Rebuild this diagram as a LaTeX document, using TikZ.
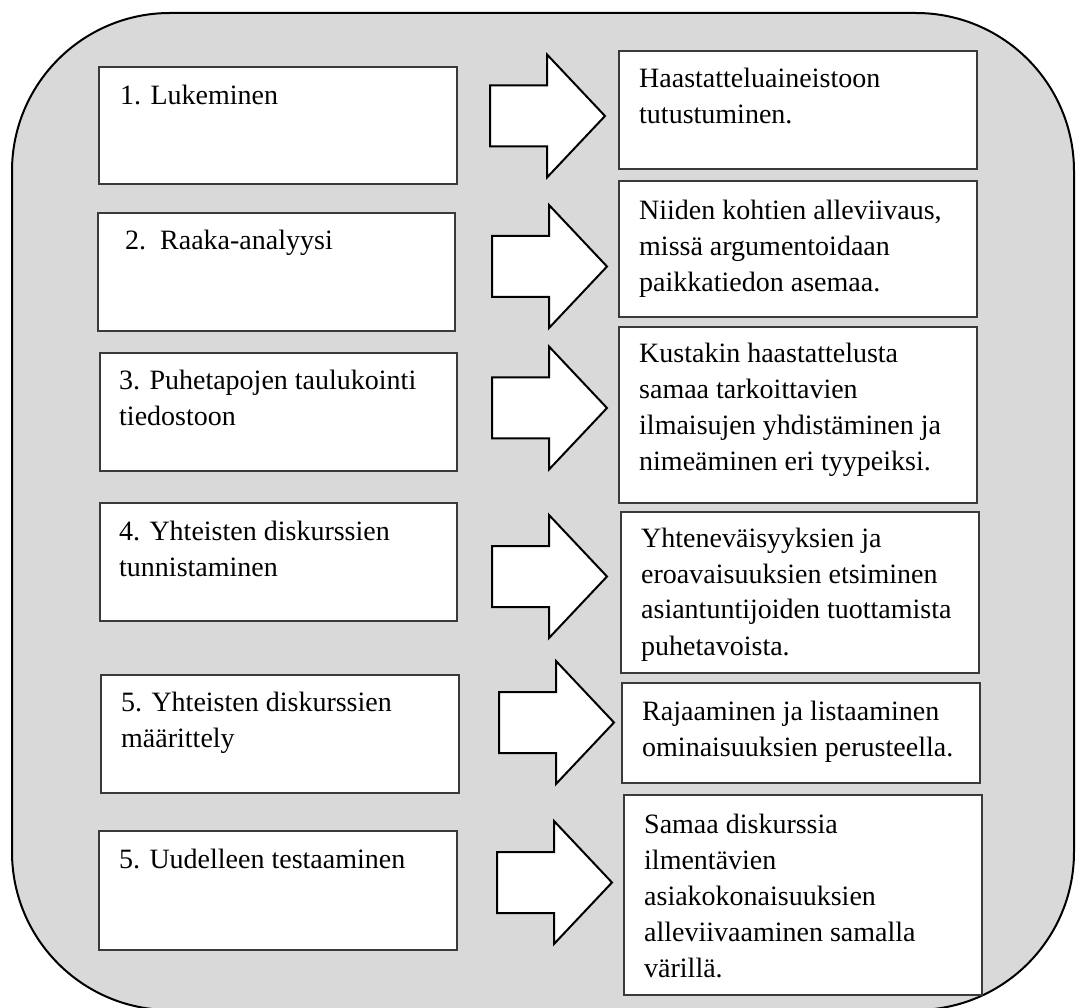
\documentclass[tikz,border=0pt]{standalone}
\usepackage{fontspec}
\setmainfont{Liberation Serif}
\definecolor{panelgray}{HTML}{D9D9D9}
\definecolor{boxline}{HTML}{3A3A3A}
\tikzset{
  panel/.style={draw=black, line width=2pt, fill=panelgray, rounded corners=158pt},
  stepbox/.style={draw=boxline, line width=1.3pt, fill=white, rectangle, inner sep=0pt},
  steptext/.style={anchor=base west, inner sep=0pt, font=\fontsize{28}{36}\selectfont},
  blockarrow/.pic={\draw[line width=2pt, fill=white, line join=miter]
      (0,-30.5) -- (57,-30.5) -- (57,-61.5) -- (115,0) -- (57,61.5) -- (57,30.5) -- (0,30.5) -- cycle;}
}
\newcommand{\mybox}[5]{\node[stepbox, minimum width={(#4)-(#2)}, minimum height={(#5)-(#3)}] (#1) at ({((#2)+(#4))/2},{((#3)+(#5))/2}) {};}
\newcommand{\mytext}[4]{\node[steptext] (#1) at (#2,#3) {\begin{tabular}[t]{@{}l@{}}#4\end{tabular}};}
\begin{document}
\begin{tikzpicture}[x=1pt, y=-1pt]
\useasboundingbox (0,0) rectangle (1088,1008);
\begin{scope}
\clip (0,0) rectangle (1088,1008);
\draw[panel] (12,13) rectangle (1074,1010);
\end{scope}
% left boxes
\mybox{b1}{99}{67}{457}{184}
\mybox{b2}{98}{213}{455}{331}
\mybox{b3}{100}{353}{457}{471}
\mybox{b4}{100}{503}{457}{621}
\mybox{b5}{101}{675}{459}{793}
\mybox{b6}{99}{831}{457}{950}
% right boxes
\mybox{r1}{619}{51}{977}{169}
\mybox{r2}{619}{181}{977}{317}
\mybox{r3}{619}{327}{977}{503}
\mybox{r4}{621}{512}{979}{673}
\mybox{r5}{622}{683}{980}{783}
\mybox{r6}{624}{795}{982}{995}
% arrows
\pic at (490,116) {blockarrow};
\pic at (492,266.5) {blockarrow};
\pic at (492,408) {blockarrow};
\pic at (492,576.5) {blockarrow};
\pic at (499,722.5) {blockarrow};
\pic at (497,882.5) {blockarrow};
% left texts
\mytext{t1}{120}{105}{1. Lukeminen}
\mytext{t2}{125}{250}{2.\ \ Raaka-analyysi}
\mytext{t3}{119}{390}{3. Puhetapojen taulukointi\\tiedostoon}
\mytext{t4}{119}{540}{4. Yhteisten diskurssien\\tunnistaminen}
\mytext{t5}{121}{711}{5. Yhteisten diskurssien\\määrittely}
\mytext{t6}{119}{868}{5. Uudelleen testaaminen}
% right texts
\mytext{s1}{639}{88}{Haastatteluaineistoon\\tutustuminen.}
\mytext{s2}{639}{220}{Niiden kohtien alleviivaus,\\missä argumentoidaan\\paikkatiedon asemaa.}
\mytext{s3}{639}{363}{Kustakin haastattelusta\\samaa tarkoittavien\\ilmaisujen yhdistäminen ja\\nimeäminen eri tyypeiksi.}
\mytext{s4}{641}{547}{Yhteneväisyyksien ja\\eroavaisuuksien etsiminen\\asiantuntijoiden tuottamista\\puhetavoista.}
\mytext{s5}{642}{720}{Rajaaminen ja listaaminen\\ominaisuuksien perusteella.}
\mytext{s6}{644}{833}{Samaa diskurssia\\ilmentävien\\asiakokonaisuuksien\\alleviivaaminen samalla\\värillä.}
\end{tikzpicture}
\end{document}
